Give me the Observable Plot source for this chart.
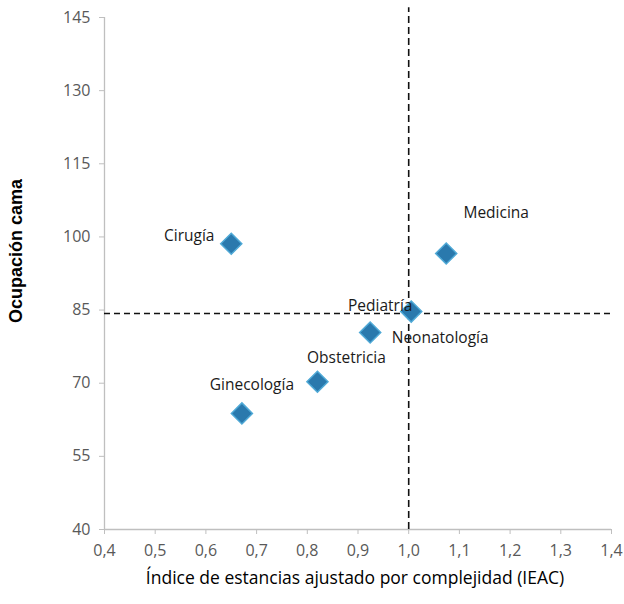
<!DOCTYPE html>
<html><head><meta charset="utf-8">
<script src="https://cdn.jsdelivr.net/npm/d3@7"></script>
<script src="https://cdn.jsdelivr.net/npm/@observablehq/plot@0.6"></script>
<style>
body{margin:0;background:#fff;}
#chart{width:624px;height:604px;}
g[aria-label="x-axis tick label"], g[aria-label="y-axis tick label"]{font-size:16px !important;}
g[aria-label="x-axis tick label"] text, g[aria-label="y-axis tick label"] text{font-size:16px !important;}
</style></head>
<body><div id="chart"></div>
<script>
const services = ["Cirugía","Medicina","Pediatría","Neonatología","Obstetricia","Ginecología"];
const ieac = [0.65, 1.074, 1.005, 0.924, 0.82, 0.671];
const ocupacion = [98.6, 96.6, 84.7, 80.4, 70.3, 63.8];
const refX = [1.0];
const refY = [84.3];
const xTicks = [0.4,0.5,0.6,0.7,0.8,0.9,1.0,1.1,1.2,1.3,1.4];
const yTicks = [40,55,70,85,100,115,130,145];

const data = services.map((s,i)=>({s, x:ieac[i], y:ocupacion[i]}));
const fmt = d => d3.format(".1f")(d).replace(".", ",");
const lab = (name, dx, dy) => Plot.text(data.filter(d=>d.s===name), {x:"x", y:"y", text:"s", dx, dy, fontSize:15.5, fill:"#1a1a1a"});

const chart = Plot.plot({
  width:624, height:604,
  marginLeft:104, marginRight:13, marginTop:17, marginBottom:75,
  style:{fontFamily:"'Open Sans',sans-serif", background:"#fff"},
  x:{domain:[0.4,1.4]},
  y:{domain:[40,145]},
  marks:[
    Plot.ruleX([0.4], {stroke:"#bfbfbf", strokeWidth:1.3}),
    Plot.ruleY([40], {stroke:"#bfbfbf", strokeWidth:1.3}),
    Plot.axisX({ticks:xTicks, tickFormat:fmt, tickSize:5, stroke:"#bfbfbf", fill:"#595959", tickPadding:10, label:null}),
    Plot.axisY({ticks:yTicks, tickSize:5, stroke:"#bfbfbf", fill:"#595959", tickPadding:9, label:null}),
    Plot.ruleY(refY, {stroke:"#111", strokeWidth:1.6, strokeDasharray:"6,4"}),
    Plot.ruleX(refX, {y1:40, y2:147, stroke:"#111", strokeWidth:1.6, strokeDasharray:"7,4", clip:false}),
    Plot.dot(data, {x:"x", y:"y", symbol:"diamond2", r:9.5, fill:"#2a79ad", stroke:"#4fa9d6", strokeWidth:1.5}),
    lab("Cirugía", -42, -8),
    lab("Medicina", 50, -40),
    lab("Pediatría", -31, -6),
    lab("Neonatología", 70, 6),
    lab("Obstetricia", 29, -24),
    lab("Ginecología", 10, -28)
  ]
});
const svg = d3.select(chart);
svg.append("text").attr("transform","translate(22,251) rotate(-90)").attr("text-anchor","middle")
  .attr("font-family","'Liberation Sans',Arial,sans-serif").attr("font-weight","bold").attr("font-size",18).attr("fill","#000")
  .text("Ocupación cama");
svg.append("text").attr("x",355).attr("y",584).attr("text-anchor","middle")
  .attr("font-size",17.5).attr("fill","#000")
  .text("Índice de estancias ajustado por complejidad (IEAC)");
document.getElementById("chart").appendChild(chart);
</script></body></html>
